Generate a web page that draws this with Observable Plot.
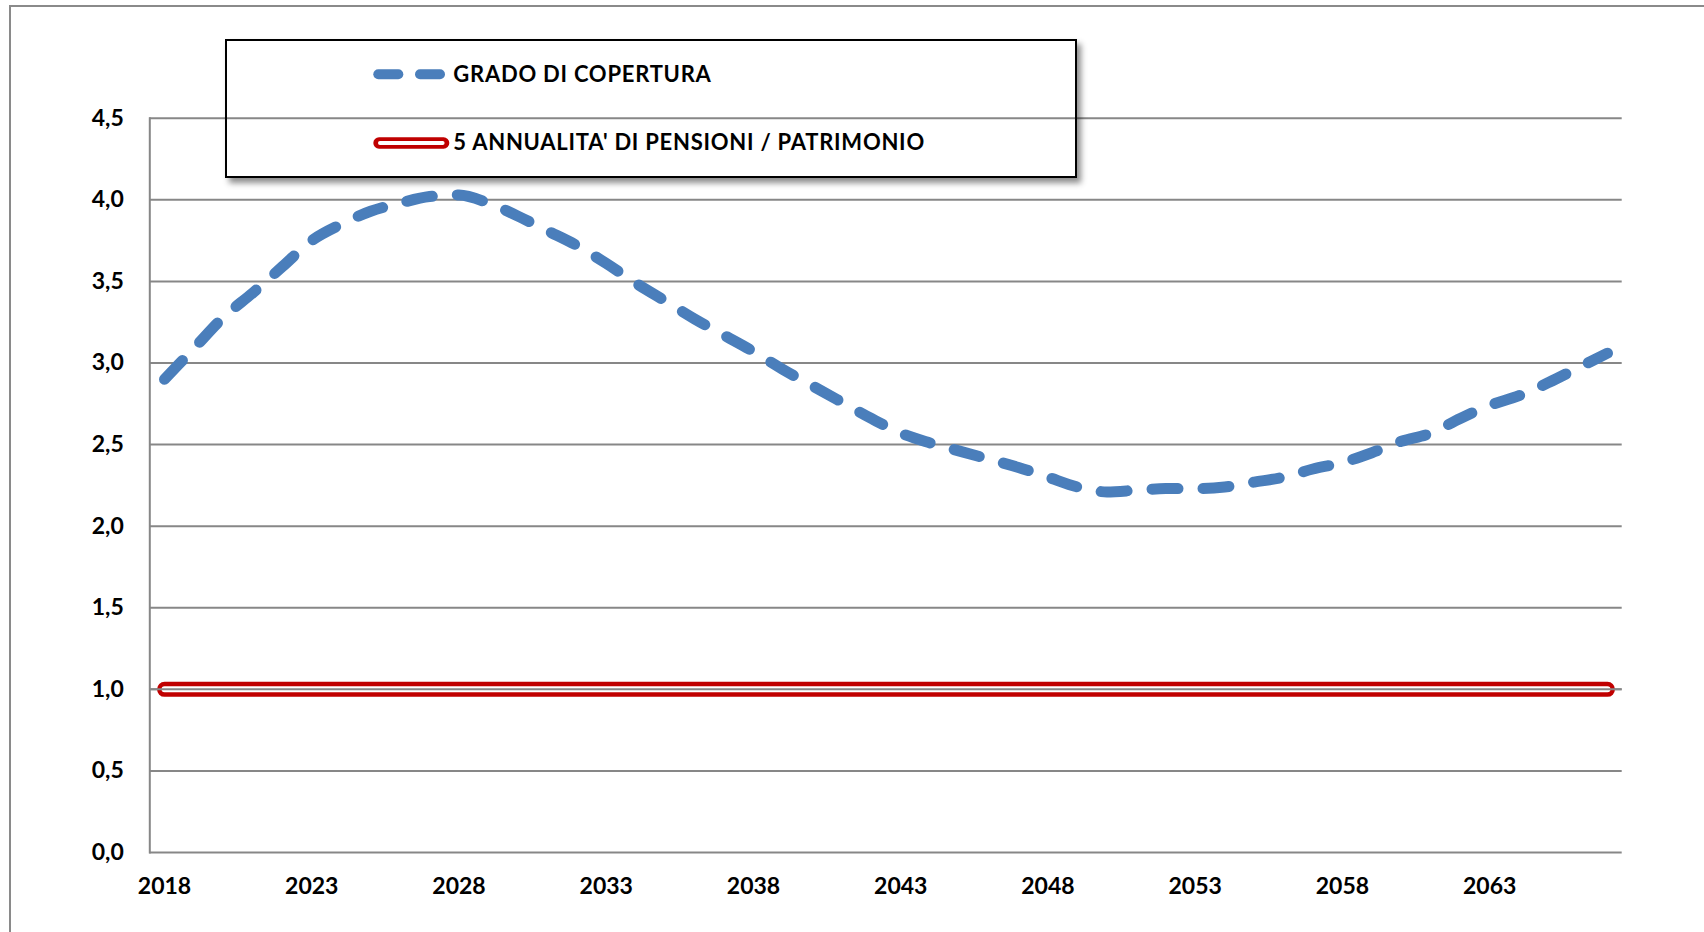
<!DOCTYPE html>
<html><head><meta charset="utf-8">
<script src="https://cdn.jsdelivr.net/npm/d3@7"></script>
<script src="https://cdn.jsdelivr.net/npm/@observablehq/plot@0.6"></script>
<style>
html,body{margin:0;padding:0;background:#fff;overflow:hidden;width:1704px;height:932px;}
#wrap{position:relative;width:1704px;height:932px;overflow:hidden;}
#border{position:absolute;left:9px;top:5px;width:1760px;height:990px;border:2px solid #8a8a8a;box-sizing:border-box;}
#chart{position:absolute;left:0;top:0;}
#chart svg text{font-weight:700;}
#legendbox{position:absolute;left:225px;top:39px;width:852px;height:139px;border:2px solid #000;box-sizing:border-box;box-shadow:4px 5px 6px rgba(0,0,0,0.45);}
#legend{position:absolute;left:0;top:0;pointer-events:none;}
#legend text{font-family:Lato,sans-serif;font-weight:700;font-size:22px;letter-spacing:0.75px;fill:#000;}
</style></head><body>
<div id="wrap"><div id="border"></div><div id="chart"></div><div id="legendbox"></div></div>
<script>
// ---- data ----
const years = [2018,2019,2020,2021,2022,2023,2024,2025,2026,2027,
  2028,2029,2030,2031,2032,2033,2034,2035,2036,2037,
  2038,2039,2040,2041,2042,2043,2044,2045,2046,2047,
  2048,2049,2050,2051,2052,2053,2054,2055,2056,2057,
  2058,2059,2060,2061,2062,2063,2064,2065,2066,2067];
const gradoCopertura = [2.90,3.09,3.28,3.43,3.59,3.75,3.85,3.93,3.98,4.02,
  4.03,3.98,3.90,3.81,3.72,3.61,3.49,3.38,3.27,3.17,
  3.07,2.96,2.86,2.76,2.66,2.57,2.51,2.46,2.41,2.36,
  2.30,2.24,2.21,2.22,2.23,2.23,2.24,2.27,2.30,2.35,
  2.39,2.45,2.52,2.57,2.66,2.74,2.80,2.88,2.97,3.06];
const pensioniPatrimonio = [1,1,1,1,1,1,1,1,1,1,
  1,1,1,1,1,1,1,1,1,1,
  1,1,1,1,1,1,1,1,1,1,
  1,1,1,1,1,1,1,1,1,1,
  1,1,1,1,1,1,1,1,1,1];
const xTicks = [2018,2023,2028,2033,2038,2043,2048,2053,2058,2063];
const yTicks = [0,0.5,1,1.5,2,2.5,3,3.5,4,4.5];
const seriesNames = ["GRADO DI COPERTURA", "5 ANNUALITA' DI PENSIONI / PATRIMONIO"];

const rows = years.map((year, i) => ({year, copertura: gradoCopertura[i], soglia: pensioniPatrimonio[i]}));

const BLUE = "#4a7ebb", RED = "#c00000", GRID = "#878787";

const plot = Plot.plot({
  width: 1704, height: 932,
  marginLeft: 149.3, marginRight: 82.3, marginTop: 117.7, marginBottom: 80,
  style: {fontFamily: "Lato, sans-serif", fontSize: "23px", color: "#000", background: "transparent", overflow: "visible"},
  x: {type: "point", domain: years, padding: 0.5, round: false},
  y: {domain: [0, 4.5]},
  marks: [
    Plot.ruleY(yTicks, {stroke: GRID, strokeWidth: 2}),
    Plot.frame({anchor: "left", stroke: GRID, strokeWidth: 2}),
    Plot.axisX(xTicks, {tickSize: 0, tickPadding: 25, tickFormat: d => String(d), label: null, fontSize: 23}),
    Plot.axisY(yTicks, {tickSize: 0, tickPadding: 26, tickFormat: d => d.toFixed(1).replace(".", ","), label: null, fontSize: 23}),
    Plot.line(rows, {x: "year", y: "soglia", stroke: RED, strokeWidth: 15, strokeLinecap: "round"}),
    Plot.line(rows, {x: "year", y: "soglia", stroke: "#fff", strokeWidth: 6, strokeLinecap: "round"}),
    Plot.ruleY([1], {stroke: GRID, strokeWidth: 2}),
    Plot.line(rows, {x: "year", y: "copertura", stroke: BLUE, strokeWidth: 11, strokeLinecap: "round",
      strokeDasharray: "26,25", curve: "monotone-x"})
  ]
});
document.getElementById("chart").appendChild(plot);

// ---- legend (overlay) ----
const lg = d3.select("#wrap").append("svg").attr("id", "legend").attr("width", 1704).attr("height", 932);
// row 1: dashed blue sample
[[378.3, 398.3], [420, 440]].forEach(([a, b]) => {
  lg.append("line").attr("x1", a).attr("x2", b).attr("y1", 74.3).attr("y2", 74.3)
    .attr("stroke", BLUE).attr("stroke-width", 10).attr("stroke-linecap", "round");
});
lg.append("text").attr("x", 453.3).attr("y", 81.7).text(seriesNames[0]);
// row 2: red double line sample
lg.append("line").attr("x1", 379).attr("x2", 443.6).attr("y1", 143).attr("y2", 143)
  .attr("stroke", RED).attr("stroke-width", 11.4).attr("stroke-linecap", "round");
lg.append("line").attr("x1", 380).attr("x2", 442.6).attr("y1", 143).attr("y2", 143)
  .attr("stroke", "#fff").attr("stroke-width", 4).attr("stroke-linecap", "round");
lg.append("text").attr("x", 453.3).attr("y", 150).text(seriesNames[1]);
</script>
</body></html>
